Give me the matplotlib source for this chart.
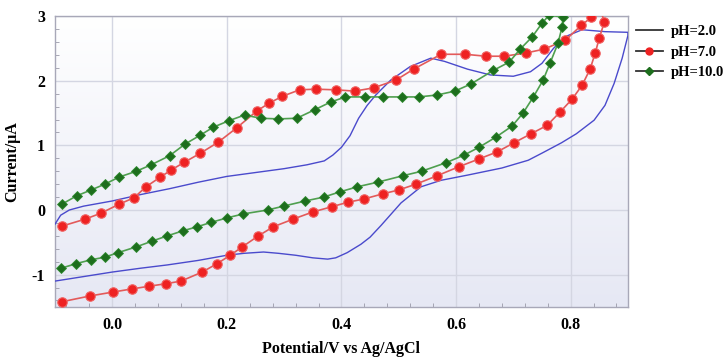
"""Cyclic voltammograms at three pH values."""
import numpy as np
import matplotlib
matplotlib.use("Agg")
import matplotlib.pyplot as plt
from matplotlib.lines import Line2D
from matplotlib.ticker import MultipleLocator

# pH=2.0 (plain line), forward then reverse sweep
pot_ph2 = [-0.1, -0.09, -0.075, -0.05, -0.025, 0.0, 0.05, 0.1, 0.15, 0.2, 0.25, 0.3, 0.34,
           0.37, 0.385, 0.40, 0.415, 0.43, 0.445, 0.46, 0.486, 0.52, 0.556, 0.58, 0.62, 0.66,
           0.70, 0.73, 0.75, 0.77, 0.79, 0.82, 0.86, 0.9,
           0.9, 0.89, 0.876, 0.86, 0.841, 0.81, 0.784, 0.75, 0.726, 0.68, 0.62, 0.574, 0.539,
           0.504, 0.485, 0.469, 0.45, 0.434, 0.41, 0.39, 0.376, 0.35, 0.32, 0.29, 0.264, 0.23,
           0.2, 0.15, 0.096, 0.05, 0.0, -0.05, -0.1]
cur_ph2 = [-0.22, -0.08, 0.0, 0.06, 0.1, 0.14, 0.24, 0.33, 0.43, 0.52, 0.58, 0.64, 0.7,
           0.76, 0.85, 0.97, 1.15, 1.42, 1.62, 1.78, 2.01, 2.22, 2.35, 2.3, 2.18, 2.09,
           2.07, 2.14, 2.27, 2.5, 2.68, 2.79, 2.76, 2.75,
           2.7, 2.35, 1.96, 1.62, 1.39, 1.18, 1.04, 0.88, 0.77, 0.65, 0.54, 0.46, 0.36,
           0.11, -0.08, -0.24, -0.42, -0.53, -0.66, -0.74, -0.76, -0.74, -0.7, -0.67, -0.65, -0.67,
           -0.7, -0.78, -0.85, -0.9, -0.96, -1.03, -1.1]

# pH=7.0 (circles)
pot_ph7 = [-0.088, -0.047, -0.020, 0.012, 0.038, 0.059, 0.084, 0.103, 0.126, 0.154, 0.185,
           0.217, 0.252, 0.273, 0.297, 0.327, 0.355, 0.39, 0.423, 0.456, 0.495, 0.526, 0.574,
           0.616, 0.652, 0.684, 0.722, 0.754, 0.791, 0.819, 0.836, 0.85,
           0.859, 0.850, 0.843, 0.834, 0.820, 0.803, 0.782, 0.759, 0.731, 0.701, 0.672, 0.640,
           0.605, 0.567, 0.530, 0.500, 0.472, 0.439, 0.411, 0.383, 0.350, 0.316, 0.281, 0.255,
           0.227, 0.206, 0.183, 0.157, 0.120, 0.094, 0.064, 0.035, 0.001, -0.039, -0.088]
cur_ph7 = [-0.25, -0.14, -0.05, 0.09, 0.19, 0.36, 0.51, 0.62, 0.74, 0.88, 1.05,
           1.27, 1.53, 1.65, 1.76, 1.86, 1.87, 1.86, 1.84, 1.89, 2.01, 2.18, 2.41,
           2.41, 2.38, 2.38, 2.43, 2.49, 2.63, 2.86, 2.98, 3.15,
           2.91, 2.66, 2.43, 2.18, 1.93, 1.72, 1.52, 1.31, 1.18, 1.04, 0.90, 0.79,
           0.67, 0.53, 0.40, 0.31, 0.25, 0.17, 0.12, 0.05, -0.03, -0.14, -0.26, -0.40,
           -0.57, -0.70, -0.83, -0.96, -1.10, -1.14, -1.18, -1.22, -1.27, -1.33, -1.42]

# pH=10.0 (diamonds)
pot_ph10 = [-0.088, -0.062, -0.037, -0.013, 0.012, 0.042, 0.068, 0.100, 0.127, 0.154, 0.176,
            0.203, 0.231, 0.259, 0.290, 0.322, 0.353, 0.381, 0.407, 0.441, 0.472, 0.505, 0.535,
            0.567, 0.598, 0.626, 0.665, 0.693, 0.712, 0.733, 0.750, 0.763,
            0.787, 0.785, 0.778, 0.764, 0.752, 0.735, 0.717, 0.698, 0.670, 0.640, 0.614, 0.582,
            0.540, 0.507, 0.463, 0.428, 0.397, 0.369, 0.337, 0.299, 0.271, 0.229, 0.201, 0.173,
            0.148, 0.124, 0.096, 0.070, 0.042, 0.010, -0.013, -0.037, -0.063, -0.089]
cur_ph10 = [0.09, 0.22, 0.31, 0.40, 0.51, 0.60, 0.70, 0.84, 1.02, 1.16, 1.28,
            1.38, 1.47, 1.42, 1.41, 1.42, 1.55, 1.67, 1.75, 1.75, 1.75, 1.75, 1.75,
            1.78, 1.84, 1.95, 2.16, 2.29, 2.49, 2.68, 2.89, 3.02,
            2.98, 2.83, 2.58, 2.27, 2.01, 1.75, 1.50, 1.30, 1.13, 0.97, 0.85, 0.73,
            0.60, 0.53, 0.43, 0.36, 0.28, 0.20, 0.14, 0.06, 0.0, -0.06, -0.12, -0.19,
            -0.26, -0.32, -0.40, -0.48, -0.57, -0.66, -0.73, -0.77, -0.83, -0.90]

labels = ["pH=2.0", "pH=7.0", "pH=10.0"]

plt.rcParams["font.family"] = ["Liberation Serif", "DejaVu Serif"]
plt.rcParams["font.weight"] = "bold"

fig = plt.figure(figsize=(7.28, 3.59), dpi=100)
ax = fig.add_axes([0.0755, 0.145, 0.787, 0.81])

# light lavender gradient background
grad = np.linspace(0, 1, 256).reshape(-1, 1)
ax.imshow(grad, extent=[-0.1, 0.9, -1.5, 3], aspect="auto", origin="upper",
          cmap=matplotlib.colors.LinearSegmentedColormap.from_list("bg", ["#ffffff", "#e6e8f4"]),
          zorder=0)

ax.plot(pot_ph2, cur_ph2, color="#4a4acc", linewidth=1.0, zorder=3)
ax.plot(pot_ph7, cur_ph7, color="#e35a5a", linewidth=1.2, marker="o", markersize=6.8,
        markerfacecolor="#ee2222", markeredgecolor="#f06060", markeredgewidth=0.8, zorder=4)
ax.plot(pot_ph10, cur_ph10, color="#4f9f4f", linewidth=1.2, marker="D", markersize=5,
        markerfacecolor="#1d6e1d", markeredgecolor="#2f8a2f", markeredgewidth=0.6, zorder=5)

ax.set_xlim(-0.1, 0.9)
ax.set_ylim(-1.5, 3)
ax.xaxis.set_minor_locator(MultipleLocator(0.04))
ax.yaxis.set_minor_locator(MultipleLocator(0.2))
ax.set_xticks([0.0, 0.2, 0.4, 0.6, 0.8])
ax.set_xticklabels(["0.0", "0.2", "0.4", "0.6", "0.8"])
ax.set_yticks([-1, 0, 1, 2, 3])
ax.set_yticklabels(["-1", "0", "1", "2", "3"])
ax.tick_params(which="both", direction="in", color="#9a9aa8", labelsize=11.5)
ax.tick_params(which="major", length=0, pad=7)
ax.tick_params(which="minor", length=3)
ax.grid(True, which="major", color="#d4d6e2", linewidth=1.0, zorder=1)
ax.set_axisbelow(True)
for s in ax.spines.values():
    s.set_color("#a8a8b8")
    s.set_linewidth(1.0)

ax.set_xlabel("Potential/V vs Ag/AgCl", fontsize=11.5, fontweight="bold", labelpad=6)
ax.set_ylabel("Current/\u03bcA", fontsize=11.5, fontweight="bold", labelpad=8)

handles = [
    Line2D([], [], color="#333333", linewidth=1.3),
    Line2D([], [], color="#333333", linewidth=1.3, marker="o", markersize=5,
           markerfacecolor="#ee2222", markeredgecolor="#ee2222"),
    Line2D([], [], color="#333333", linewidth=1.3, marker="D", markersize=4,
           markerfacecolor="#1d6e1d", markeredgecolor="#1d6e1d"),
]
fig.legend(handles, labels, loc="upper left", bbox_to_anchor=(0.862, 0.955), frameon=False,
           prop={"size": 10.5, "weight": "bold"}, handlelength=1.8, labelspacing=0.5,
           handletextpad=0.6, borderaxespad=0.2)

fig.savefig("out.png", dpi=100)
